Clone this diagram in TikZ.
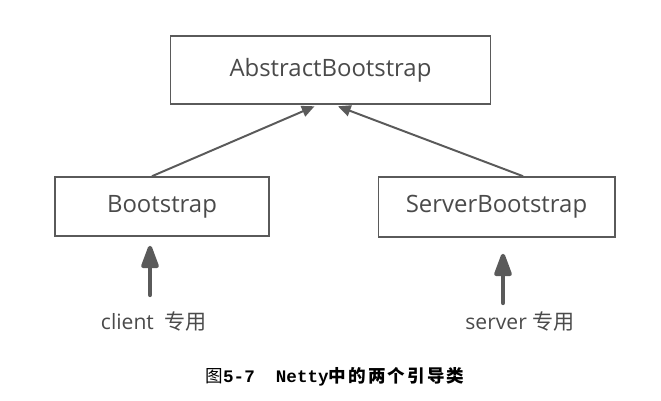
\documentclass[tikz,border=0pt]{standalone}
\usepackage{fontspec}
\setmainfont{Open Sans}
\newfontfamily\cjk{Noto Sans CJK SC}
\newfontfamily\capmono{Liberation Mono}
\usetikzlibrary{arrows.meta,calc,positioning}

\definecolor{linegray}{HTML}{5A5A5A}
\definecolor{textgray}{HTML}{4A4A4A}

\tikzset{
    cls/.style={draw=linegray, line width=1.3pt, text=textgray,
        font=\fontsize{17}{20}\selectfont, inner sep=0pt},
    inherit/.style={draw=linegray, line width=1.4pt,
        -{Triangle[length=9pt,width=8pt]}},
    uparrow/.style={draw=linegray, line width=3pt, line cap=round,
        -{Triangle[length=19pt,width=13pt,round]}},
    usage/.style={text=textgray, font=\fontsize{15}{18}\selectfont, inner sep=0pt},
}

\begin{document}
\begin{tikzpicture}[x=0.025cm, y=-0.025cm]
    \useasboundingbox (0,0) rectangle (661,400);

    \node[cls, minimum width=321*0.7087pt, minimum height=69*0.7087pt] at (330.5, 70)(abs){AbstractBootstrap};
    \node[cls, minimum width=214*0.7087pt, minimum height=59*0.7087pt] at (162, 206.5)(boot){Bootstrap};
    \node[cls, minimum width=237*0.7087pt, minimum height=60*0.7087pt] at (496.5, 207)(srv){ServerBootstrap};

    \node[usage] at (154, 322)(client){client\ \ {\cjk 专用}};
    \node[usage] at (520, 322)(server){server {\cjk 专用}};

    \node[font=\fontsize{12.5}{15}\selectfont] at (335, 377)(caption){{\cjk 图}\capmono\bfseries 5-7\ \ Netty{\cjk\addfontfeatures{LetterSpace=12} 中的两个引导类}};

    % inheritance
    \draw[inherit] ($(boot.north)+(-10,0)$) -- ($(abs.south)+(-16,1)$);
    \draw[inherit] ($(srv.north)+(26.5,0)$) -- ($(abs.south)+(7.5,1)$);

    % who uses which
    \coordinate (cl) at (150, 295);
    \coordinate (sv) at (503, 303);
    \draw[uparrow, shorten >=9*0.7087pt] (cl) -- (cl |- boot.south);
    \draw[uparrow, shorten >=16*0.7087pt] (sv) -- (sv |- srv.south);
\end{tikzpicture}
\end{document}
